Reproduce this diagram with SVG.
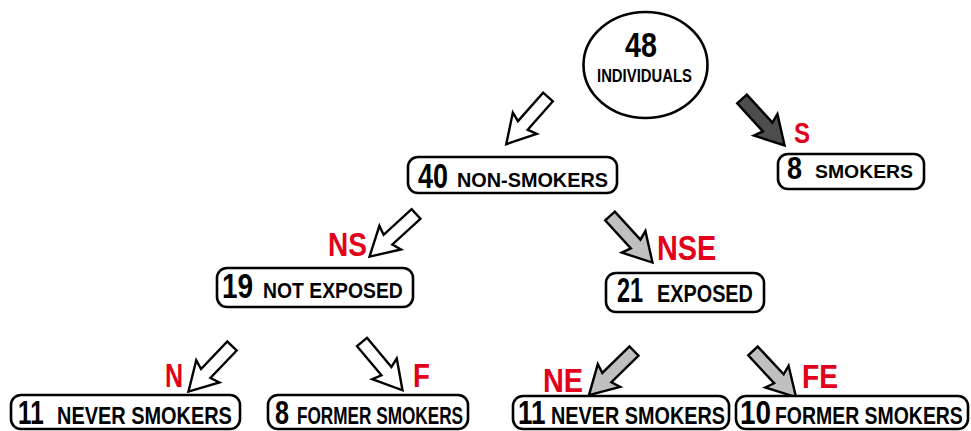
<svg xmlns="http://www.w3.org/2000/svg" width="971" height="431" viewBox="0 0 971 431">
<style>
.box{fill:#fff;stroke:#000;stroke-width:2.6}
.num{font-family:"Liberation Sans",Arial,sans-serif;font-weight:bold;fill:#000}
.lbl{font-family:"Liberation Sans",Arial,sans-serif;font-weight:bold;fill:#000}
.red{font-family:"Liberation Sans",Arial,sans-serif;font-weight:bold;fill:#e3001b}
.aw{fill:#fff;stroke:#000;stroke-width:2.4;stroke-linejoin:miter}
.ad{fill:#4d4d4d;stroke:#000;stroke-width:2.4}
.al{fill:#c0c0c0;stroke:#000;stroke-width:2.4}
</style>
<defs>
<path id="arr" d="M0,-6.5 L38,-6.5 L35,-16 L63,0 L35,16 L38,6.5 L0,6.5 Z"/>
</defs>
<rect width="971" height="431" fill="#fff"/>
<g id="connectors">
<use href="#arr" class="aw" transform="translate(548,97) rotate(131.5)"/>
<use href="#arr" class="ad" transform="translate(742,99) rotate(47.5)"/>
<use href="#arr" class="aw" transform="translate(416,214) rotate(137.5)"/>
<use href="#arr" class="al" transform="translate(610,216) rotate(47.6)"/>
<use href="#arr" class="aw" transform="translate(232,346) rotate(133.7)"/>
<use href="#arr" class="aw" transform="translate(362,342) rotate(50)"/>
<use href="#arr" class="al" transform="translate(634,351) rotate(135.6)"/>
<use href="#arr" class="al" transform="translate(753,351) rotate(47)"/>
<text class="red" font-size="29" transform="translate(794,143) scale(0.83,1)">S</text>
<text class="red" font-size="34" transform="translate(328,256) scale(0.826,1)">NS</text>
<text class="red" font-size="36" transform="translate(657,260) scale(0.8,1)">NSE</text>
<text class="red" font-size="33" transform="translate(165,387) scale(0.76,1)">N</text>
<text class="red" font-size="33" transform="translate(413,387) scale(0.84,1)">F</text>
<text class="red" font-size="34" transform="translate(543,392) scale(0.85,1)">NE</text>
<text class="red" font-size="34" transform="translate(802,388) scale(0.83,1)">FE</text>
</g>
<g id="n48">
<ellipse class="box" cx="645.5" cy="65" rx="62" ry="53"/>
<text class="num" font-size="35" transform="translate(625,57) scale(0.82,1)">48</text>
<text class="lbl" font-size="18" transform="translate(597,82) scale(0.826,1)">INDIVIDUALS</text>
</g>
<g id="nonsmokers">
<rect class="box" x="408" y="157" width="209" height="36" rx="10"/>
<text class="num" font-size="35" transform="translate(418,188) scale(0.77,1)">40</text>
<text class="lbl" font-size="21" transform="translate(457,187) scale(0.945,1)">NON-SMOKERS</text>
</g>
<g id="smokers">
<rect class="box" x="778" y="154" width="146" height="35" rx="10"/>
<text class="num" font-size="31" transform="translate(787,179) scale(0.87,1)">8</text>
<text class="lbl" font-size="19" transform="translate(815,178) scale(1.02,1)">SMOKERS</text>
</g>
<g id="notexposed">
<rect class="box" x="217" y="268" width="196" height="39" rx="10"/>
<text class="num" font-size="35" transform="translate(222,298) scale(0.8,1)">19</text>
<text class="lbl" font-size="22" transform="translate(263,298) scale(0.88,1)">NOT EXPOSED</text>
</g>
<g id="exposed">
<rect class="box" x="606" y="273" width="158" height="39" rx="10"/>
<text class="num" font-size="35" transform="translate(617,302) scale(0.67,1)">21</text>
<text class="lbl" font-size="24" transform="translate(657,302) scale(0.827,1)">EXPOSED</text>
</g>
<g id="never1">
<rect class="box" x="11" y="395" width="229" height="34" rx="10"/>
<text class="num" font-size="34" transform="translate(18,424) scale(0.714,1)">11</text>
<text class="lbl" font-size="24" transform="translate(57,424) scale(0.83,1)">NEVER SMOKERS</text>
</g>
<g id="former1">
<rect class="box" x="268" y="395" width="200" height="34" rx="10"/>
<text class="num" font-size="34" transform="translate(275,424) scale(0.74,1)">8</text>
<text class="lbl" font-size="24" transform="translate(297,424) scale(0.716,1)">FORMER SMOKERS</text>
</g>
<g id="never2">
<rect class="box" x="513" y="396" width="216" height="33" rx="10"/>
<text class="num" font-size="34" transform="translate(518,424) scale(0.767,1)">11</text>
<text class="lbl" font-size="24" transform="translate(551,424) scale(0.826,1)">NEVER SMOKERS</text>
</g>
<g id="former2">
<rect class="box" x="736" y="396" width="232" height="33" rx="10"/>
<text class="num" font-size="34" transform="translate(740,424) scale(0.82,1)">10</text>
<text class="lbl" font-size="24" transform="translate(775,424) scale(0.81,1)">FORMER SMOKERS</text>
</g>
</svg>
